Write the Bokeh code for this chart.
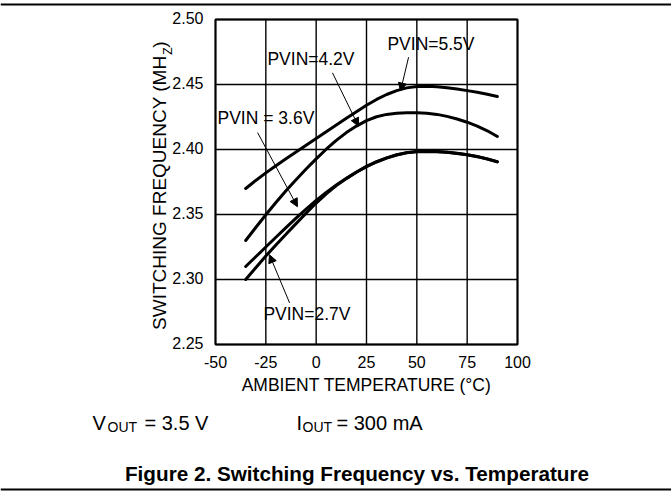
import math
from bokeh.plotting import figure
from bokeh.models import Label, Arrow, NormalHead, Range1d, ColumnDataSource
from bokeh.core.properties import value
from bokeh.embed import file_html
from bokeh.resources import INLINE

# ---------------- data ----------------
temps = [-35, -30, -25, -20, -15, -10, -5, 0, 5, 10, 15, 20, 25,
         30, 35, 40, 45, 50, 55, 60, 65, 70, 75, 80, 85, 90]
freq_55 = [2.3700, 2.3762, 2.3820, 2.3875, 2.3928, 2.3980, 2.4032, 2.4084, 2.4136, 2.4188,
           2.4240, 2.4291, 2.4340, 2.4385, 2.4423, 2.4453, 2.4474, 2.4485, 2.4487, 2.4483,
           2.4475, 2.4465, 2.4453, 2.4440, 2.4425, 2.4408]
freq_42 = [2.3300, 2.3400, 2.3498, 2.3592, 2.3682, 2.3768, 2.3850, 2.3928, 2.4002, 2.4070,
           2.4130, 2.4180, 2.4222, 2.4252, 2.4270, 2.4279, 2.4283, 2.4283, 2.4279, 2.4270,
           2.4255, 2.4235, 2.4210, 2.4180, 2.4144, 2.4100]
freq_36 = [2.3100, 2.3175, 2.3250, 2.3325, 2.3399, 2.3472, 2.3542, 2.3608, 2.3670, 2.3727,
           2.3779, 2.3827, 2.3870, 2.3906, 2.3936, 2.3960, 2.3976, 2.3984, 2.3986, 2.3984,
           2.3979, 2.3971, 2.3960, 2.3946, 2.3928, 2.3906]
freq_27 = [2.3000, 2.3091, 2.3180, 2.3265, 2.3348, 2.3430, 2.3510, 2.3588, 2.3659, 2.3722,
           2.3776, 2.3825, 2.3868, 2.3904, 2.3934, 2.3958, 2.3975, 2.3983, 2.3985, 2.3983,
           2.3978, 2.3970, 2.3959, 2.3945, 2.3927, 2.3905]

x_ticks = [-50, -25, 0, 25, 50, 75, 100]
x_tick_labels = ["-50", "-25", "0", "25", "50", "75", "100"]
y_ticks = [2.25, 2.30, 2.35, 2.40, 2.45, 2.50]
y_tick_labels = ["2.25", "2.30", "2.35", "2.40", "2.45", "2.50"]

series_names = ["PVIN=5.5V", "PVIN=4.2V", "PVIN = 3.6V", "PVIN=2.7V"]
label_x = [35.4, -24.2, -49.0, -26.2]          # left edge of each curve label
label_y = [2.4813, 2.4694, 2.4246, 2.2738]      # vertical centre of each curve label
arrow_x0 = [45.9, 8.1, -29.1, -13.2]
arrow_y0 = [2.471, 2.459, 2.413, 2.282]
arrow_x1 = [41.9, 21.0, -9.3, -23.2]
arrow_y1 = [2.445, 2.418, 2.356, 2.319]

x_title = "AMBIENT TEMPERATURE (\u00b0C)"
y_title_main = "SWITCHING FREQUENCY (MH"
y_title_sub = "Z"
y_title_end = ")"
caption = "Figure 2. Switching Frequency vs. Temperature"

FONT = "Liberation Sans"
X0, X1, Y0, Y1 = -50, 100, 2.25, 2.50          # plot-area ranges

# ---------------- geometry ----------------
W, H = 671, 491
FL, FR, FT, FB = 215, 517, 19, 344               # plot-area edges in canvas pixels
KX = (X1 - X0) / (FR - FL)
KY = (Y1 - Y0) / (FB - FT)
XA, XB = X0 - FL * KX, X1 + (W - FR) * KX        # whole-canvas data ranges
YA, YB = Y0 - (H - FB) * KY, Y1 + FT * KY


def dx(px):
    return XA + px * KX


def dy(py):
    return YB - py * KY


p = figure(width=W, height=H, x_range=Range1d(XA, XB), y_range=Range1d(YA, YB),
           x_axis_type=None, y_axis_type=None, output_backend="svg", toolbar_location=None,
           min_border=0)
p.outline_line_color = None
p.background_fill_color = "white"
p.border_fill_color = "white"
p.grid.visible = False

# grid lines from the tick arrays
p.segment(x0=x_ticks, y0=[Y0] * len(x_ticks), x1=x_ticks, y1=[Y1] * len(x_ticks),
          line_color="black", line_width=1.4)
p.segment(x0=[X0] * len(y_ticks), y0=y_ticks, x1=[X1] * len(y_ticks), y1=y_ticks,
          line_color="black", line_width=1.4)
# plot box
p.quad(left=[X0], right=[X1], bottom=[Y0], top=[Y1], fill_color=None,
       line_color="black", line_width=2)

# tick labels
p.text(x=x_ticks, y=[Y0] * len(x_ticks), text=x_tick_labels, y_offset=17.5,
       text_align="center", text_baseline="middle", text_font=value(FONT),
       text_font_size="16px", text_color="black")
p.text(x=[X0] * len(y_ticks), y=y_ticks, text=y_tick_labels, x_offset=-12, y_offset=-1.5,
       text_align="right", text_baseline="middle", text_font=value(FONT),
       text_font_size="16px", text_color="black")

# curves
for ys in (freq_55, freq_42, freq_36, freq_27):
    src = ColumnDataSource(dict(x=temps, y=ys))
    p.line("x", "y", source=src, line_color="black", line_width=3,
           line_join="round", line_cap="round")

for name, lx, ly in zip(series_names, label_x, label_y):
    p.add_layout(Label(x=lx, y=ly, text=name, text_font=FONT, text_font_size="17.5px",
                       text_color="black", text_align="left", text_baseline="middle"))

for xa, ya, xb, yb in zip(arrow_x0, arrow_y0, arrow_x1, arrow_y1):
    p.add_layout(Arrow(x_start=xa, y_start=ya, x_end=xb, y_end=yb, line_width=1, line_color="black",
                       end=NormalHead(size=8, fill_color="black", line_color="black", line_width=1)))


# ---------------- texts outside the plot area (positions in canvas pixels) ----------------
def lab(px, py, text, size, align="left", angle=0.0, bold=False):
    p.add_layout(Label(x=dx(px), y=dy(py), text=text,
                       text_font=FONT, text_font_size=size, text_color="black",
                       text_align=align, text_baseline="middle", angle=angle,
                       text_font_style="bold" if bold else "normal"))


# y axis title (rotated)
lab(158.5, 55, y_title_main, "19px", align="right", angle=math.pi / 2)
lab(167, 47, y_title_sub, "12px", align="right", angle=math.pi / 2)
lab(158.5, 41, y_title_end, "19px", align="right", angle=math.pi / 2)

# x axis title
lab(366, 384, x_title, "17.5px", align="center")

# conditions
lab(92, 422, "V", "20px")
lab(107, 426.5, "OUT", "14px")
lab(144, 422, "= 3.5 V", "20px")
lab(296, 422, "I", "20px")
lab(302, 426.5, "OUT", "14px")
lab(336, 422, "= 300 mA", "20px")

# caption
lab(356.5, 473, caption, "20.7px", align="center", bold=True)

# horizontal rules across the page
p.segment(x0=[XA, XA], y0=[dy(4), dy(489)], x1=[XB, XB], y1=[dy(4), dy(489)],
          line_color="black", line_width=2)

open("out.html", "w").write(file_html(p, INLINE))
